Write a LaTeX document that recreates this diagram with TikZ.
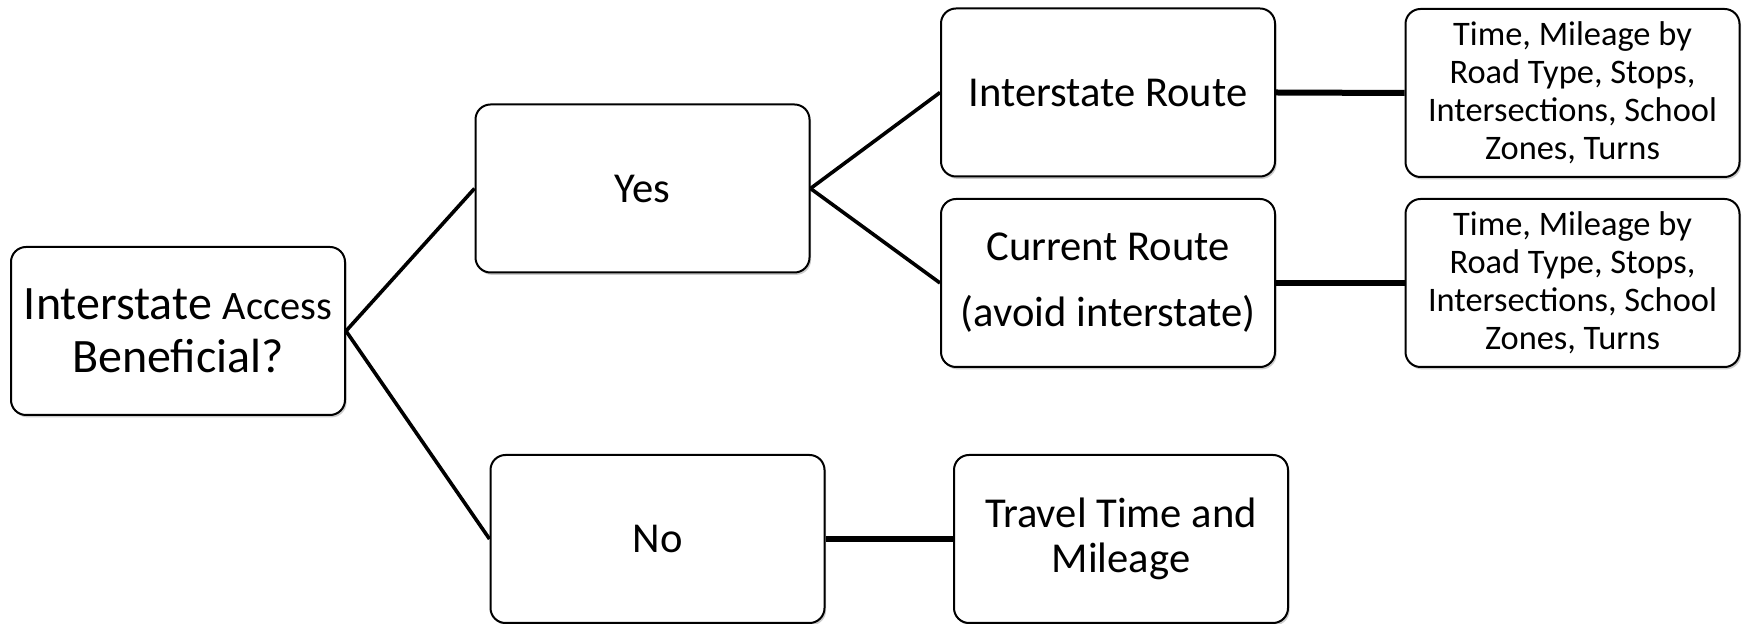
\documentclass[tikz,border=0pt]{standalone}
\usepackage{fontspec}
\setmainfont{Carlito}
\usetikzlibrary{shadows}
\begin{document}
\begin{tikzpicture}[x=0.5pt,y=-0.5pt,
  box/.style={draw=black, line width=1pt, rounded corners=7.5pt, fill=white,
    minimum width=167pt, minimum height=84pt, align=center, inner sep=2pt,
    drop shadow={shadow xshift=0.8pt, shadow yshift=-1.2pt, opacity=0.2, fill=black}},
  big/.style={font=\fontsize{21.3pt}{22pt}\selectfont},
  small/.style={font=\fontsize{17.2pt}{18.95pt}\selectfont},
  diag/.style={line width=1.8pt},
  thick line/.style={line width=3pt}]
\useasboundingbox (0,0) rectangle (1746,624);
\node[box, font=\fontsize{24pt}{26.7pt}\selectfont] (root) at (178,331)
  {Interstate {\fontsize{20.2pt}{26.7pt}\selectfont Access}\\Beneficial?};
\node[box, big] (yes) at (642.5,188.5) {Yes};
\node[box, big] (ir) at (1108,92.5) {Interstate Route};
\node[box, font=\fontsize{21.3pt}{33pt}\selectfont] (cr) at (1108,283) {Current Route\\(avoid interstate)};
\node[box, small] (t1) at (1572.5,93) {Time, Mileage by\\Road Type, Stops,\\Intersections, School\\Zones, Turns};
\node[box, small] (t2) at (1572.5,283) {Time, Mileage by\\Road Type, Stops,\\Intersections, School\\Zones, Turns};
\node[box, big] (no) at (657.5,539) {No};
\node[box, font=\fontsize{21.3pt}{22.25pt}\selectfont] (tt) at (1121,539) {Travel Time and\\Mileage};
\draw[diag] (root.east) -- (yes.west);
\draw[diag] (root.east) -- (no.west);
\draw[diag] (yes.east) -- (ir.west);
\draw[diag] (yes.east) -- (cr.west);
\draw[thick line] (ir.east) -- (t1.west);
\draw[thick line] (cr.east) -- (t2.west);
\draw[thick line] (no.east) -- (tt.west);
\end{tikzpicture}
\end{document}
